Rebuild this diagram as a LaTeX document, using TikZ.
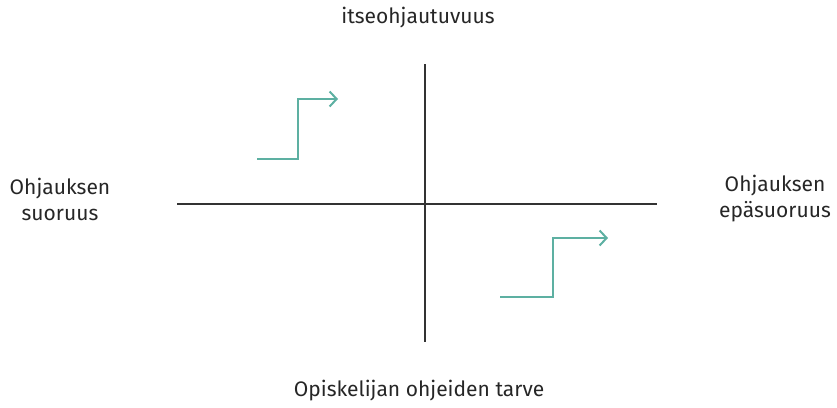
\documentclass[tikz,border=0pt]{standalone}
\usepackage{fontspec}
\setmainfont{Fira Sans}
\usetikzlibrary{arrows.meta}
\definecolor{teal1}{HTML}{5DB0A2}
\definecolor{axisc}{HTML}{333333}
\begin{document}
\begin{tikzpicture}[x=1pt,y=-1pt,
  lbl/.style={font=\fontsize{21}{26}\selectfont, text=black!85, align=center, inner sep=0pt},
  axis/.style={draw=axisc, line width=1.2pt},
  stepline/.style={draw=teal1, line width=2pt, -{Straight Barb[length=7pt,width=15pt,line width=2pt]}}]
\useasboundingbox (0,0) rectangle (837,407);
\coordinate (hl) at (177,204);
\coordinate (hr) at (657,204);
\coordinate (vt) at (425,64);
\coordinate (vb) at (425,342);
\draw[axis] (hl) -- (hr);
\draw[axis] (vt) -- (vb);
\coordinate (a1s) at (257,159);
\coordinate (a1e) at (338,99);
\draw[stepline] (a1s) -- (298,159) -- (298,99) -- (a1e);
\coordinate (a2s) at (500,297);
\coordinate (a2e) at (608,238);
\draw[stepline] (a2s) -- (553,297) -- (553,238) -- (a2e);
\node[lbl] (top) at (418,18) {itseohjautuvuus};
\node[lbl] (bot) at (419,391) {Opiskelijan ohjeiden tarve};
\node[lbl] (left) at (60,199) {Ohjauksen\\suoruus};
\node[lbl] (right) at (775,199) {Ohjauksen\\epäsuoruus};
\end{tikzpicture}
\end{document}
